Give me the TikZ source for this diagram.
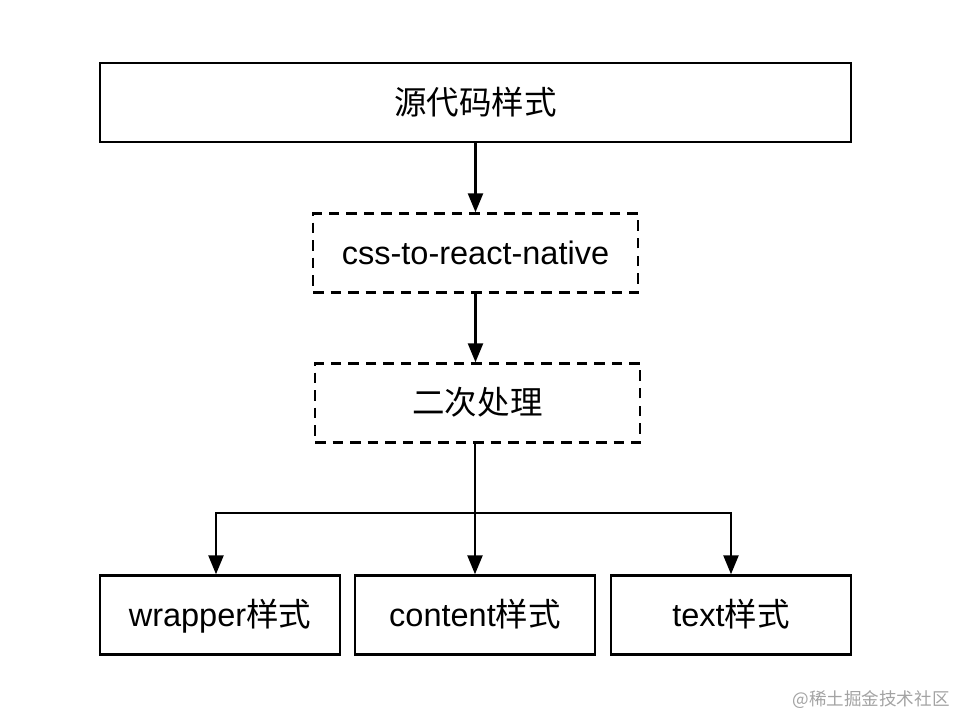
\documentclass[tikz,border=0pt]{standalone}
\usepackage{fontspec}
\setmainfont{Liberation Sans}
\newfontfamily\cjk{Noto Sans CJK SC}
\usepackage{xcolor}
\usepackage{tikz}
\usetikzlibrary{arrows.meta,positioning,calc}
\definecolor{markgray}{HTML}{A3A3A3}

\begin{document}
\begin{tikzpicture}[x=0.02cm,y=-0.02cm,
  box/.style={draw=black,line width=1.4pt,minimum height=1.58cm,font=\fontsize{18.5}{22}\selectfont,inner sep=0pt,text height=16pt,text depth=2.6pt},
  dbox/.style={box,dash pattern=on 6pt off 4pt},
  arr/.style={draw=black,line width=1.4pt,-{Triangle[length=0.38cm,width=0.3cm]}}
]
\useasboundingbox (0,0) rectangle (958,718);
\node[box,minimum width=15.02cm] (src) at (475.5,102.5) {\cjk 源代码样式};
\node[dbox,minimum width=6.5cm] (c2rn) at (475.5,253) {css-to-react-native};
\node[dbox,minimum width=6.5cm] (proc) at (477.5,403) {\cjk 二次处理};
\node[box,minimum width=4.8cm] (wrapper) at (220,615) {wrapper{\cjk 样式}};
\node[box,minimum width=4.8cm] (content) at (475,615) {content{\cjk 样式}};
\node[box,minimum width=4.8cm] (text) at (731,615) {text{\cjk 样式}};
\coordinate (fork) at (476,513);
\draw[arr] (src.south -| c2rn.north) -- (c2rn.north);
\draw[arr] (c2rn.south) -- (c2rn.south |- proc.north);
\draw[arr] (proc.south -| content.north) -- (content.north);
\draw[arr] (fork) -| ($(wrapper.north)+(-4,0)$);
\draw[arr] (fork) -| (text.north);
\node[text=markgray,font=\cjk\fontsize{10}{12}\selectfont] (mark) at (871,700) {@稀土掘金技术社区};
\end{tikzpicture}
\end{document}
